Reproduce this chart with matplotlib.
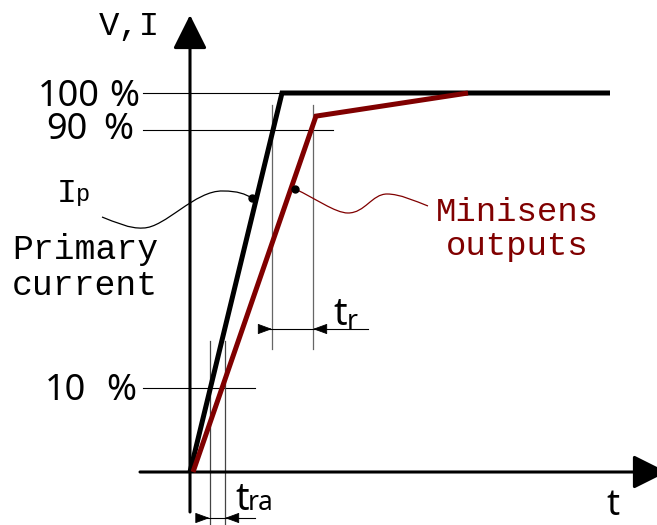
import matplotlib
matplotlib.use("Agg")
import matplotlib.pyplot as plt
from matplotlib.path import Path
from matplotlib.patches import PathPatch

# ---- data (time in arbitrary units, level in % of full scale) ----
t_primary = [0, 92, 420]
y_primary = [0, 100, 100]
t_output = [3, 126, 278]
y_output = [0, 93.9, 100]
level_labels = ["100 %", "90 %", "10 %"]
level_values = [100, 90.2, 22.2]
tr_marks = [82, 123]
tra_marks = [19.5, 35]

RED = "#800000"
S = 3.79  # px per percent


def P(px, py):
    """convert a position on the 657x525 canvas into data units"""
    return (px - 190.0, (472.0 - py) / S)


fig = plt.figure(figsize=(6.57, 5.25), dpi=100)
ax = fig.add_axes([0, 0, 1, 1])
ax.set_xlim(-190, 467)
ax.set_ylim(-53 / S, 472 / S)
ax.axis("off")

# ---- axes with arrows ----
for (a, b) in [((190, 512), (190, 15)), ((140, 472), (667, 472))]:
    ax.annotate("", xy=P(*b), xytext=P(*a),
                arrowprops=dict(arrowstyle="-|>,head_length=21,head_width=10.5",
                                mutation_scale=1, lw=2.2, color="black",
                                shrinkA=0, shrinkB=0), annotation_clip=False)

# ---- level lines ----
level_ends = [92, 143, 65]
for val, end in zip(level_values, level_ends):
    ax.plot([-47, end], [val, val], color="black", lw=0.8, zorder=2)

# ---- vertical helper lines ----
for t in tr_marks:
    ax.plot([t, t], [P(0, 105)[1], P(0, 349)[1]], color="#666666", lw=0.9, zorder=2)
for t in tra_marks:
    ax.plot([t, t], [P(0, 341)[1], P(0, 530)[1]], color="#444444", lw=0.9, zorder=2)

# ---- curves ----
ax.plot(t_primary, y_primary, color="black", lw=3.6, solid_joinstyle="miter",
        solid_capstyle="butt", zorder=4)
ax.plot(t_output, y_output, color=RED, lw=3.6, solid_joinstyle="miter",
        solid_capstyle="butt", zorder=4)

# ---- dimension arrows ----
def dim(ya, left_tip, right_tip, xl, xr):
    ax.plot([xl, xr], [ya, ya], color="black", lw=0.8, zorder=3)
    for tip, src in ((left_tip, left_tip - 13), (right_tip, right_tip + 13)):
        ax.annotate("", xy=(tip, ya), xytext=(src, ya),
                    arrowprops=dict(arrowstyle="-|>,head_length=9,head_width=3.3",
                                    mutation_scale=1, lw=0.6, color="black",
                                    shrinkA=0, shrinkB=0), annotation_clip=False)

dim(P(0, 329)[1], tr_marks[0], tr_marks[1], P(260, 0)[0], P(368, 0)[0])
dim(P(0, 518)[1], tra_marks[0], tra_marks[1], P(200, 0)[0], P(255, 0)[0])

# ---- leader curves ----
def leader(pts, color):
    verts = [P(*pts[0])]
    codes = [Path.MOVETO]
    for p in pts[1:]:
        verts.append(P(*p))
        codes.append(Path.CURVE4)
    ax.add_patch(PathPatch(Path(verts, codes), fc="none", ec=color, lw=0.9, zorder=3))

leader([(102, 217), (115, 222), (130, 229), (143, 228),
        (165, 228), (195, 190), (223, 191),
        (238, 191), (245, 194), (252, 198)], "black")
leader([(295, 189), (315, 198), (335, 213), (348, 213),
        (365, 213), (372, 194), (387, 194),
        (400, 194), (415, 201), (428, 206)], RED)
for p in [(252, 198), (295, 189)]:
    ax.plot(*P(*p), "o", color="black", ms=5, zorder=5)

# ---- texts ----
MONO = "Liberation Mono"
SANS = "Noto Sans"
ax.text(*P(99, 35), "V,I", family=MONO, size=24.5, ha="left", va="baseline")
num_right = [100, 88, 86]
pct_left = [109, 103, 106]
baselines = [106, 139, 400]
for lab, nr, pl, bl in zip(level_labels, num_right, pct_left, baselines):
    num, pct = lab.split(" ")
    ax.text(*P(nr, bl), num, family=SANS, size=26, ha="right", va="baseline")
    ax.text(*P(pl, bl), pct, family=SANS, size=26, ha="left", va="baseline")
ax.text(*P(57, 202), "I", family=MONO, size=24, ha="left", va="baseline")
ax.text(*P(76, 201), "p", family=MONO, size=17, ha="left", va="baseline")
ax.text(*P(12, 295), "Primary\ncurrent", family=MONO, size=25, ha="left",
        va="baseline", linespacing=1.1)
ax.text(*P(517, 255), "Minisens\noutputs", family=MONO, size=24.5, ha="center",
        va="baseline", multialignment="center", linespacing=1.14, color=RED)
ax.text(*P(606, 524), "t", family=SANS, size=26, ha="left", va="bottom")
ax.text(*P(333, 325), "t", family=SANS, size=27, ha="left", va="baseline")
ax.text(*P(347, 329), "r", family=SANS, size=19, ha="left", va="baseline")
ax.text(*P(235, 510), "t", family=SANS, size=27, ha="left", va="baseline")
ax.text(*P(248, 510), "ra", family=SANS, size=19, ha="left", va="baseline")

fig.savefig("out.png", dpi=100)
